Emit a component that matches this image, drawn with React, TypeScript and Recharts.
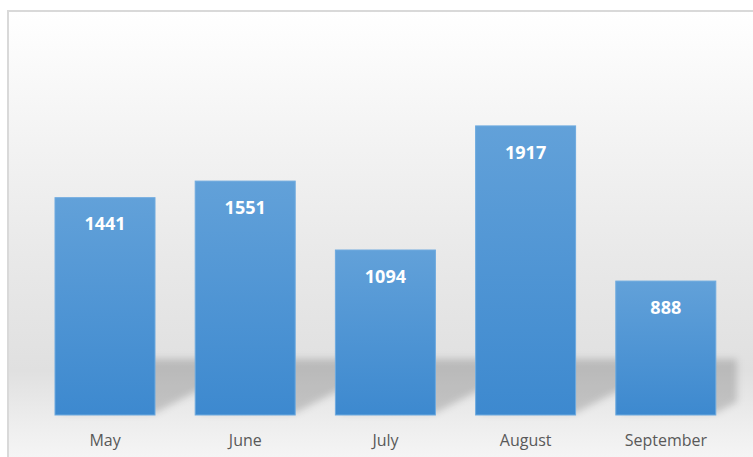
import { BarChart, Bar, XAxis, YAxis, LabelList } from "recharts";

const MONTHS = ["May", "June", "July", "August", "September"];
const COUNTS = [1441, 1551, 1094, 1917, 888];

const chartData = MONTHS.map((month, i) => ({ month, count: COUNTS[i] }));

const MARGIN = { top: 38, right: 17, bottom: 12, left: 35 };
const PLOT_RIGHT = 753 - MARGIN.right + 1;

// bar with a soft slanted shadow falling to the right, like the office chart style
function ShadowBar(props: any) {
  const { x, y, width, height } = props;
  const base = y + height;
  const right = Math.min(x + width + 48, PLOT_RIGHT);
  const shadow = [
    [x + 4, base - 2],
    [x + width, base - 2],
    [right, base - 2 - (right - x - width) * 0.52],
    [right, base - 56],
    [x + 30, base - 56],
  ]
    .map((p) => p.join(","))
    .join(" ");
  return (
    <g>
      <polygon points={shadow} fill="#000" fillOpacity={0.17} filter="url(#barShadow)" />
      <rect x={x} y={y} width={width} height={height} fill="url(#barFill)" stroke="#6eaadf" strokeWidth={1} />
    </g>
  );
}

export default function App() {
  return (
    <div style={{ position: "relative", width: 753, height: 457, overflow: "hidden" }}>
      <style>{"body{margin:0}"}</style>
      <div
        style={{
          position: "absolute",
          left: 7,
          top: 10,
          width: 800,
          height: 460,
          borderTop: "2px solid #d9d9d9",
          borderLeft: "2px solid #d9d9d9",
          background:
            "linear-gradient(to bottom, #ffffff 0%, #f2f2f2 30%, #e8e8e8 55%, #e0e0e0 78%, #ececec 88%, #f8f8f8 100%)",
        }}
      />
      <div style={{ position: "absolute", left: 0, top: 0 }}>
        <BarChart width={753} height={457} data={chartData} margin={MARGIN} barSize={100}>
          <defs>
            <linearGradient id="barFill" x1="0" y1="0" x2="0" y2="1">
              <stop offset="0%" stopColor="#62a1d9" />
              <stop offset="100%" stopColor="#3d89cf" />
            </linearGradient>
            <filter id="barShadow" x="-30%" y="-30%" width="160%" height="160%">
              <feGaussianBlur stdDeviation="3.5" />
            </filter>
          </defs>
          <XAxis
            dataKey="month"
            axisLine={false}
            tickLine={false}
            tickSize={0}
            tickMargin={20}
            height={30}
            interval={0}
            tick={{ fill: "#595959", fontSize: 16, fontFamily: "Open Sans" }}
          />
          <YAxis hide domain={[0, 2500]} />
          <Bar dataKey="count" shape={ShadowBar} isAnimationActive={false}>
            <LabelList
              dataKey="count"
              position="insideTop"
              offset={20}
              fill="#ffffff"
              fontSize={18}
              fontWeight="bold"
              fontFamily="Open Sans"
            />
          </Bar>
        </BarChart>
      </div>
    </div>
  );
}
